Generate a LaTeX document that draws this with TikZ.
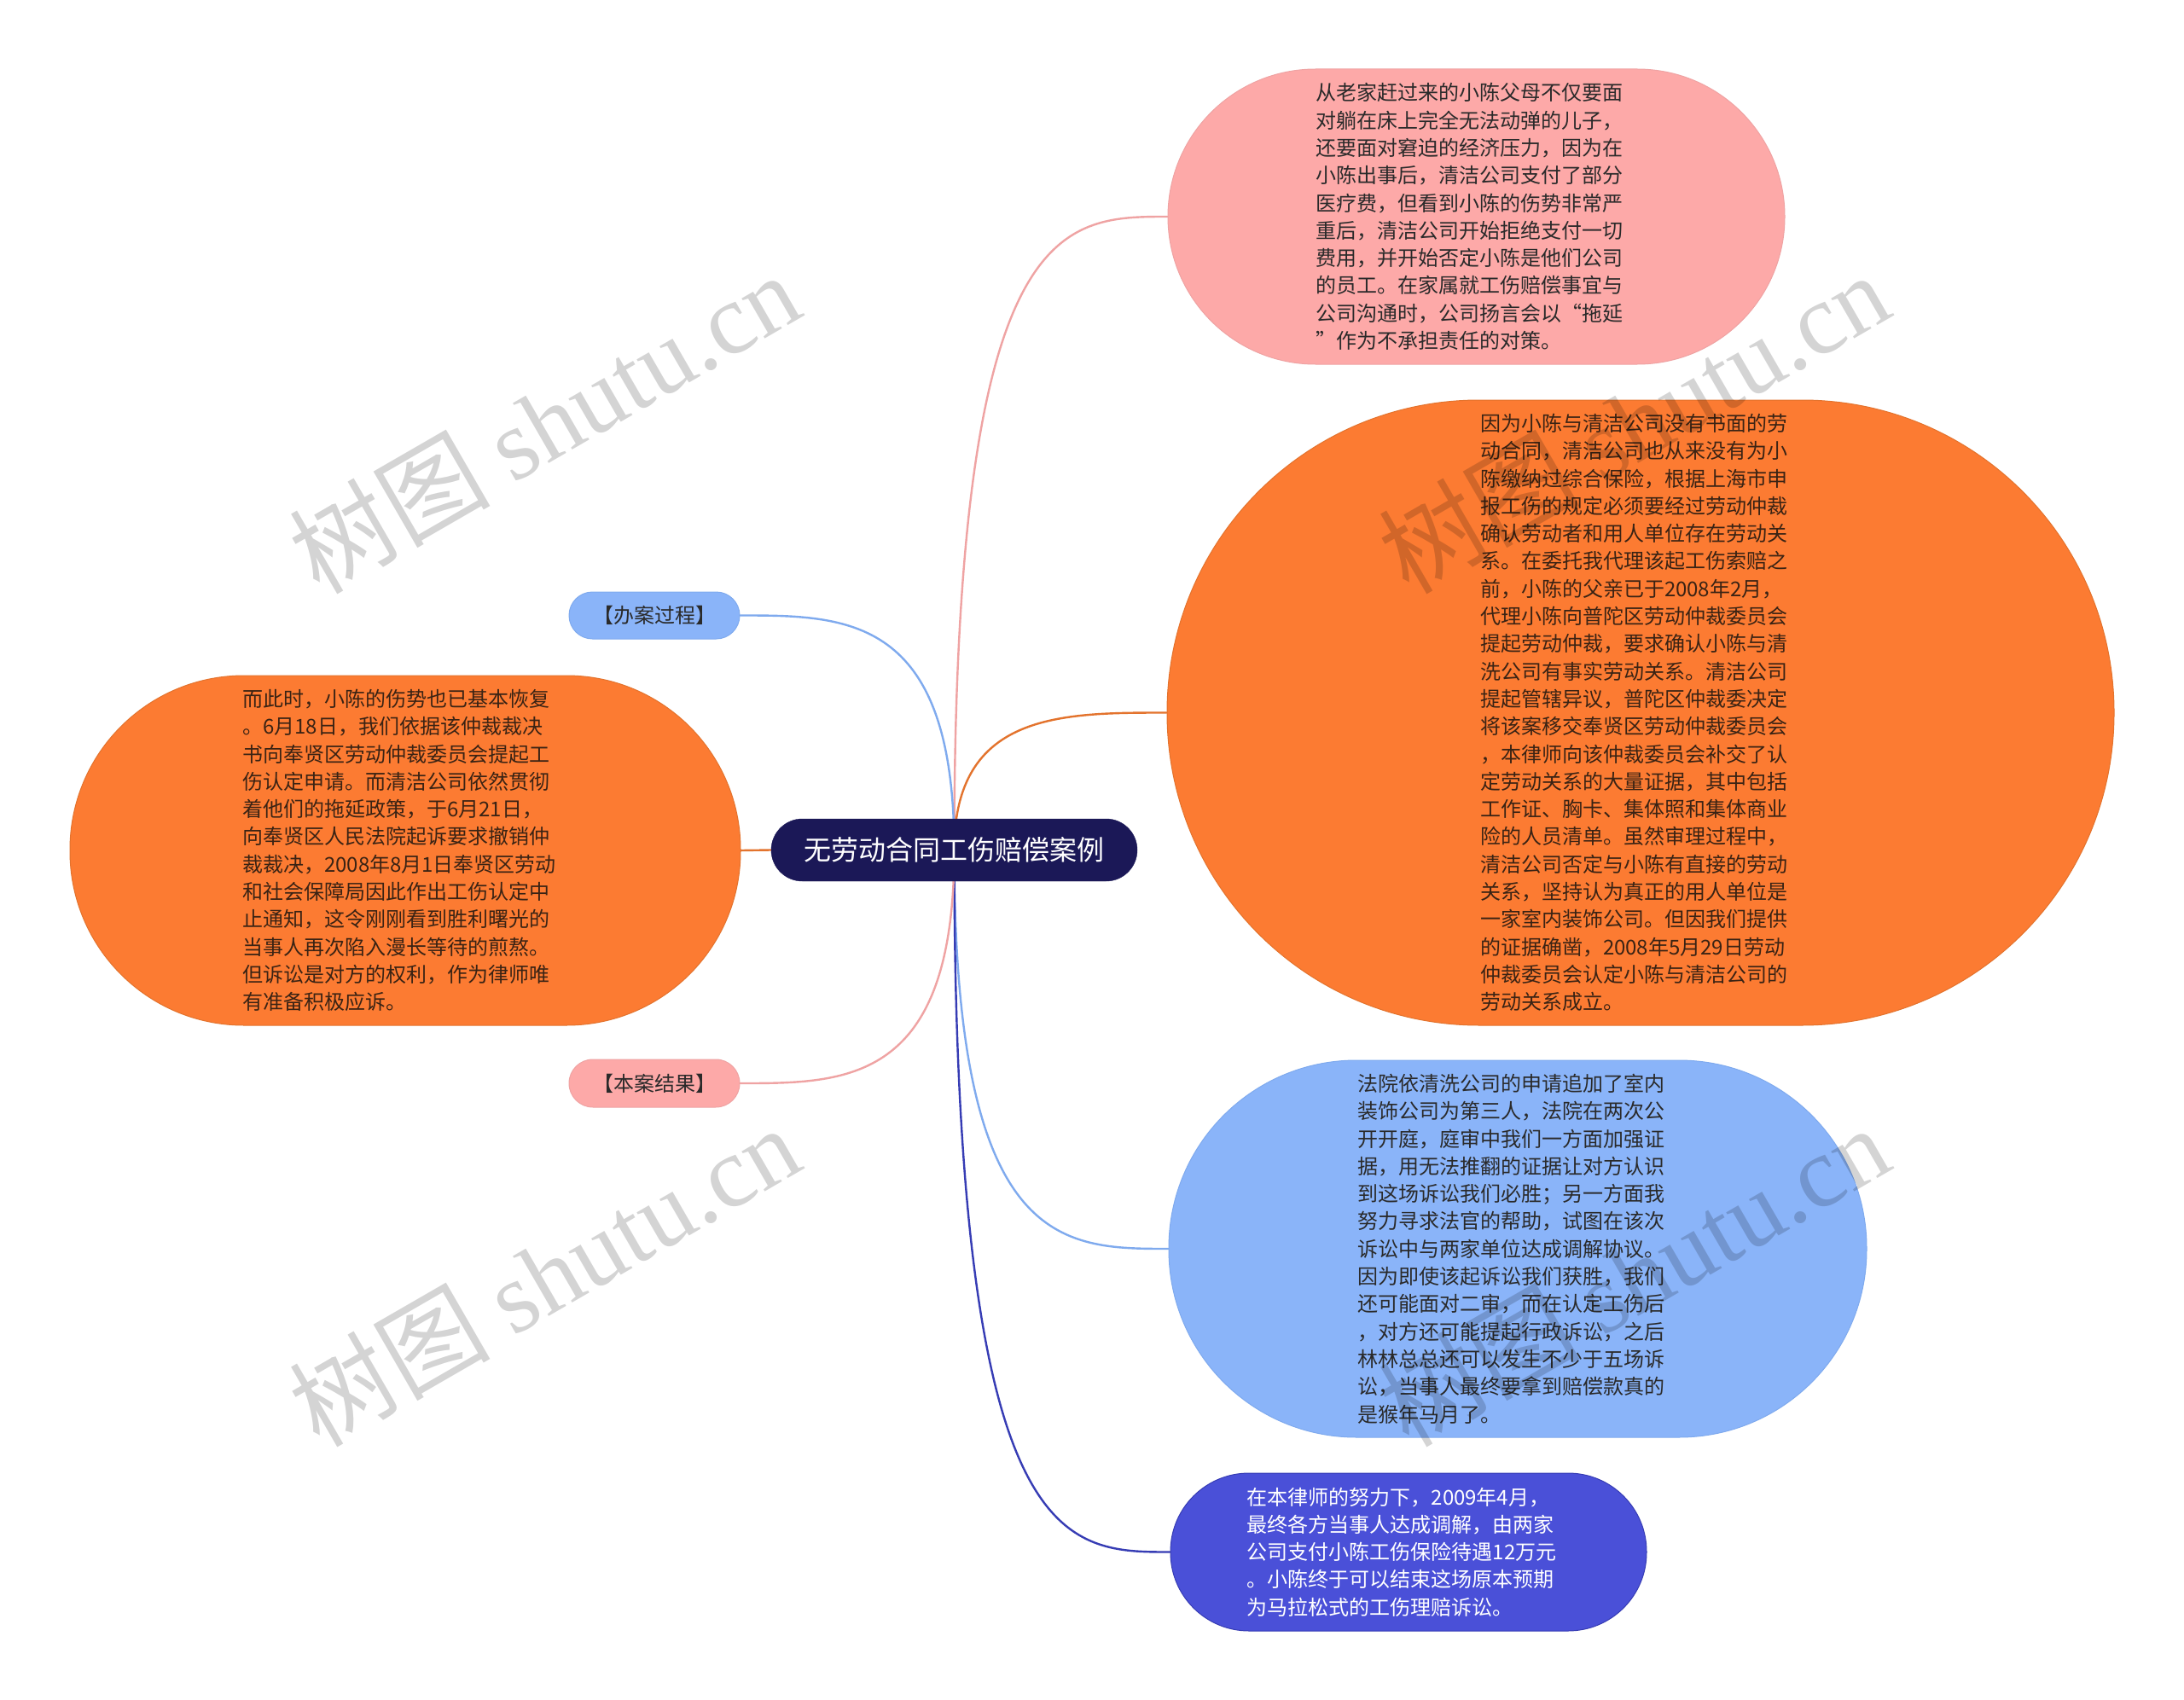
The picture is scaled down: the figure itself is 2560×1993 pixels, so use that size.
\documentclass[tikz,border=0pt]{standalone}
\usepackage{fontspec}
\setmainfont{Noto Sans CJK SC}
\newfontfamily\wmlatin{Liberation Serif}
\usetikzlibrary{calc,backgrounds}
\definecolor{cpink}{HTML}{FDA9A8}
\definecolor{cpinkline}{HTML}{EFA3A3}
\definecolor{corange}{HTML}{FC7B32}
\definecolor{corangeline}{HTML}{E3732D}
\definecolor{cblue}{HTML}{8AB4F9}
\definecolor{cblueline}{HTML}{7FAAEE}
\definecolor{cdblue}{HTML}{4A50D8}
\definecolor{cdblueline}{HTML}{363CB4}
\definecolor{cnavy}{HTML}{1B1857}
\definecolor{ctext}{HTML}{2A2A2A}
\definecolor{ctextor}{HTML}{3A2314}
\begin{document}
\begin{tikzpicture}[x=1pt,y=-1pt,
  bubble/.style={rectangle, rounded corners=#1, inner sep=0pt, line width=1pt},
  para/.style={inner sep=0pt, align=left, font=\fontsize{24}{32.3}\selectfont},
  link/.style={line width=2.4pt, line cap=round},
  wm/.style={text=black, opacity=0.17, font=\fontsize{118}{120}\selectfont}]
% root
\node[rectangle, rounded corners=36.5pt, minimum width=429pt, minimum height=73pt,
      fill=cnavy, draw=cnavy, text=white, font=\fontsize{32}{36}\selectfont]
      (root) at (1118.5,996.5) {无劳动合同工伤赔偿案例};

% shapes
\node[bubble=173pt, minimum width=723pt, minimum height=346pt, fill=cpink,
      draw=cpinkline] (pinkbox) at (1730.5,254) {};
\node[bubble=366pt, minimum width=1110pt, minimum height=733pt, fill=corange,
      draw=corangeline] (orbox) at (1923,835.5) {};
\node[bubble=220pt, minimum width=818pt, minimum height=442pt, fill=cblue,
      draw=cblueline] (bluebox) at (1779,1464) {};
\node[bubble=92pt, minimum width=558pt, minimum height=185pt, fill=cdblue,
      draw=cdblueline] (dbluebox) at (1651,1819.5) {};
\node[bubble=204pt, minimum width=786pt, minimum height=410pt, fill=corange,
      draw=corangeline] (leftbox) at (475,997) {};
\node[bubble=27.5pt, minimum width=200pt, minimum height=55pt, fill=cblue,
      draw=cblueline, text=ctext, font=\fontsize{24}{28}\selectfont]
      (proc) at (767,721.5) {【办案过程】};
\node[bubble=28pt, minimum width=200pt, minimum height=56pt, fill=cpink,
      draw=cpinkline, text=ctext, font=\fontsize{24}{28}\selectfont]
      (result) at (767,1270) {【本案结果】};

% texts
\node[para, text=ctext] (pinktxt) at ($(pinkbox.center)+(-8,0)$) {%
从老家赶过来的小陈父母不仅要面\\
对躺在床上完全无法动弹的儿子，\\
还要面对窘迫的经济压力，因为在\\
小陈出事后，清洁公司支付了部分\\
医疗费，但看到小陈的伤势非常严\\
重后，清洁公司开始拒绝支付一切\\
费用，并开始否定小陈是他们公司\\
的员工。在家属就工伤赔偿事宜与\\
公司沟通时，公司扬言会以“拖延\\
”作为不承担责任的对策。};

\node[para, text=ctextor] (ortxt) at ($(orbox.center)+(-8,0)$) {%
因为小陈与清洁公司没有书面的劳\\
动合同，清洁公司也从来没有为小\\
陈缴纳过综合保险，根据上海市申\\
报工伤的规定必须要经过劳动仲裁\\
确认劳动者和用人单位存在劳动关\\
系。在委托我代理该起工伤索赔之\\
前，小陈的父亲已于2008年2月，\\
代理小陈向普陀区劳动仲裁委员会\\
提起劳动仲裁，要求确认小陈与清\\
洗公司有事实劳动关系。清洁公司\\
提起管辖异议，普陀区仲裁委决定\\
将该案移交奉贤区劳动仲裁委员会\\
，本律师向该仲裁委员会补交了认\\
定劳动关系的大量证据，其中包括\\
工作证、胸卡、集体照和集体商业\\
险的人员清单。虽然审理过程中，\\
清洁公司否定与小陈有直接的劳动\\
关系，坚持认为真正的用人单位是\\
一家室内装饰公司。但因我们提供\\
的证据确凿，2008年5月29日劳动\\
仲裁委员会认定小陈与清洁公司的\\
劳动关系成立。};

\node[para, text=ctext] (bluetxt) at ($(bluebox.center)+(-8,0)$) {%
法院依清洗公司的申请追加了室内\\
装饰公司为第三人，法院在两次公\\
开开庭，庭审中我们一方面加强证\\
据，用无法推翻的证据让对方认识\\
到这场诉讼我们必胜；另一方面我\\
努力寻求法官的帮助，试图在该次\\
诉讼中与两家单位达成调解协议。\\
因为即使该起诉讼我们获胜，我们\\
还可能面对二审，而在认定工伤后\\
，对方还可能提起行政诉讼，之后\\
林林总总还可以发生不少于五场诉\\
讼，当事人最终要拿到赔偿款真的\\
是猴年马月了。};

\node[para, text=white] (dbluetxt) at ($(dbluebox.center)+(-8,0)$) {%
在本律师的努力下，2009年4月，\\
最终各方当事人达成调解，由两家\\
公司支付小陈工伤保险待遇12万元\\
。小陈终于可以结束这场原本预期\\
为马拉松式的工伤理赔诉讼。};

\node[para, text=ctextor] (lefttxt) at ($(leftbox.center)+(-7,0)$) {%
而此时，小陈的伤势也已基本恢复\\
。6月18日，我们依据该仲裁裁决\\
书向奉贤区劳动仲裁委员会提起工\\
伤认定申请。而清洁公司依然贯彻\\
着他们的拖延政策，于6月21日，\\
向奉贤区人民法院起诉要求撤销仲\\
裁裁决，2008年8月1日奉贤区劳动\\
和社会保障局因此作出工伤认定中\\
止通知，这令刚刚看到胜利曙光的\\
当事人再次陷入漫长等待的煎熬。\\
但诉讼是对方的权利，作为律师唯\\
有准备积极应诉。};

% connectors
\begin{pgfonlayer}{background}
\fill[white] (0,0) rectangle (2560,1993);
\draw[link, cpinkline] (root.center) .. controls (root.center |- pinkbox.west)
  and ($(root.center |- pinkbox.west)!0.5!(pinkbox.west)$) .. (pinkbox.west);
\draw[link, corangeline] (root.center) .. controls (root.center |- orbox.west)
  and ($(root.center |- orbox.west)!0.5!(orbox.west)$) .. (orbox.west);
\draw[link, cblueline] (root.center) .. controls (root.center |- bluebox.west)
  and ($(root.center |- bluebox.west)!0.5!(bluebox.west)$) .. (bluebox.west);
\draw[link, cdblueline] (root.center) .. controls (root.center |- dbluebox.west)
  and ($(root.center |- dbluebox.west)!0.5!(dbluebox.west)$) .. (dbluebox.west);
\draw[link, cblueline] (root.center) .. controls (root.center |- proc.east)
  and ($(root.center |- proc.east)!0.5!(proc.east)$) .. (proc.east);
\draw[link, cpinkline] (root.center) .. controls (root.center |- result.east)
  and ($(root.center |- result.east)!0.5!(result.east)$) .. (result.east);
\draw[link, corangeline] (root.west) -- (leftbox.east);
\end{pgfonlayer}

% watermarks
\node[wm, rotate=30, anchor=base] (wm1) at (660,534) {树图 {\wmlatin shutu.cn}};
\node[wm, rotate=30, anchor=base] (wm2) at (1937,534) {树图 {\wmlatin shutu.cn}};
\node[wm, rotate=30, anchor=base] (wm3) at (660,1534) {树图 {\wmlatin shutu.cn}};
\node[wm, rotate=30, anchor=base] (wm4) at (1937,1534) {树图 {\wmlatin shutu.cn}};

\useasboundingbox (0,0) rectangle (2560,1993);
\end{tikzpicture}
\end{document}
